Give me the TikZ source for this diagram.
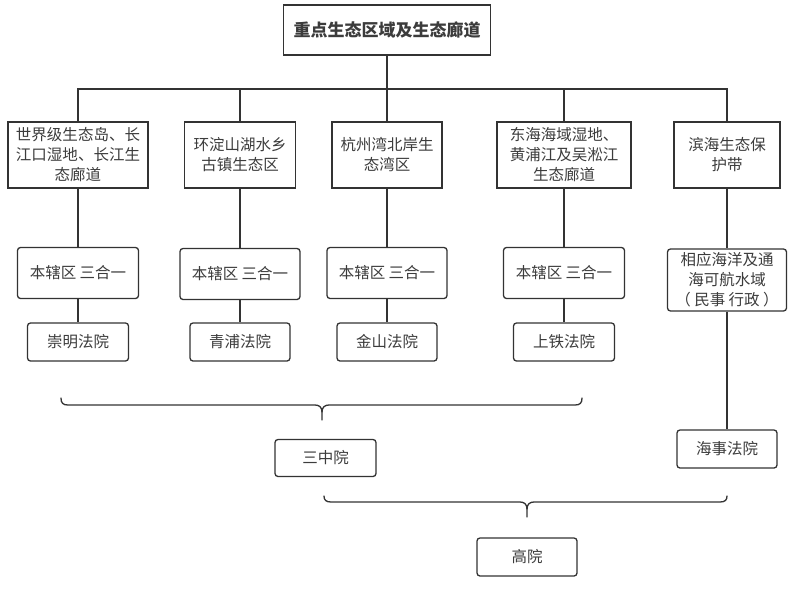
\documentclass[tikz,border=0pt]{standalone}
\usepackage{fontspec}
\newfontfamily\cjk{Noto Sans CJK SC}
\definecolor{ln}{HTML}{333333}
\definecolor{tx}{HTML}{3C3C3C}
\begin{document}
\begin{tikzpicture}[x=1pt,y=-1pt,
  box/.style={draw=ln, line width=1.3pt, fill=white, align=center, inner sep=0pt, text=tx,
    font=\cjk\fontsize{15.5}{20}\selectfont},
  rbox/.style={box, rounded corners=3pt},
  conn/.style={draw=ln, line width=1.3pt},
  bracestyle/.style={draw=ln, line width=1.3pt, line cap=round}]
\fill[white] (0,0) rectangle (805,595);
\useasboundingbox (0,0) rectangle (805,595);
% top
\node[box, minimum width=207pt, minimum height=50pt, font=\cjk\bfseries\fontsize{17}{20}\selectfont] (top) at (387,30) {重点生态区域及生态廊道};
% row 1
\node[box, minimum width=140pt, minimum height=66pt] (b1) at (78,155) {世界级生态岛、长\\江口湿地、长江生\\态廊道};
\node[box, minimum width=111pt, minimum height=66pt] (b2) at (240,155) {环淀山湖水乡\\古镇生态区};
\node[box, minimum width=110pt, minimum height=66pt] (b3) at (387,155) {杭州湾北岸生\\态湾区};
\node[box, minimum width=134pt, minimum height=66pt] (b4) at (564,155) {东海海域湿地、\\黄浦江及吴淞江\\生态廊道};
\node[box, minimum width=106pt, minimum height=66pt] (b5) at (727,155) {滨海生态保\\护带};
% row 2
\node[rbox, minimum width=121pt, minimum height=51pt] (r1) at (78,273) {本辖区 三合一};
\node[rbox, minimum width=120pt, minimum height=51pt] (r2) at (240,274) {本辖区 三合一};
\node[rbox, minimum width=120pt, minimum height=51pt] (r3) at (387,273) {本辖区 三合一};
\node[rbox, minimum width=121pt, minimum height=51pt] (r4) at (564,273) {本辖区 三合一};
\node[rbox, minimum width=119pt, minimum height=62pt] (r5) at (727,280) {相应海洋及通\\海可航水域\\（ 民事 行政 ）};
% row 3
\node[rbox, minimum width=101pt, minimum height=38pt] (c1) at (78,342) {崇明法院};
\node[rbox, minimum width=100pt, minimum height=38pt] (c2) at (240,342) {青浦法院};
\node[rbox, minimum width=100pt, minimum height=38pt] (c3) at (387,342) {金山法院};
\node[rbox, minimum width=101pt, minimum height=38pt] (c4) at (564,342) {上铁法院};
\node[rbox, minimum width=100pt, minimum height=38pt] (hs) at (727,449) {海事法院};
% courts
\node[rbox, minimum width=101pt, minimum height=37pt] (sz) at (325.5,458) {三中院};
\node[rbox, minimum width=100pt, minimum height=38pt] (gy) at (527,557) {高院};
% connectors
\coordinate (j) at (387,89);
\draw[conn] (top.south) -- (top.south |- j);
\draw[conn] (b1.north) -- (b1.north |- j) -- (b5.north |- j) -- (b5.north);
\draw[conn] (b2.north) -- (b2.north |- j);
\draw[conn] (b3.north) -- (b3.north |- j);
\draw[conn] (b4.north) -- (b4.north |- j);
\foreach \a/\b in {b1/r1,b2/r2,b3/r3,b4/r4,b5/r5,r1/c1,r2/c2,r3/c3,r4/c4,r5/hs}
  \draw[conn] (\a.south) -- (\a.south -| \b.north) -- (\b.north);
% brace 1
\draw[bracestyle] (61,398) .. controls (61,403) and (63,405) .. (68,405) -- (315,405)
  .. controls (319,405) and (322,407) .. (322,412) -- (322,420);
\draw[bracestyle] (582,398) .. controls (582,403) and (580,405) .. (575,405) -- (329,405)
  .. controls (325,405) and (322,407) .. (322,412);
% brace 2
\draw[bracestyle] (324,496) .. controls (324,500) and (326,502) .. (331,502) -- (520,502)
  .. controls (524,502) and (527,504) .. (527,509) -- (527,517);
\draw[bracestyle] (727,496) .. controls (727,500) and (725,502) .. (720,502) -- (534,502)
  .. controls (530,502) and (527,504) .. (527,509);
\end{tikzpicture}
\end{document}
